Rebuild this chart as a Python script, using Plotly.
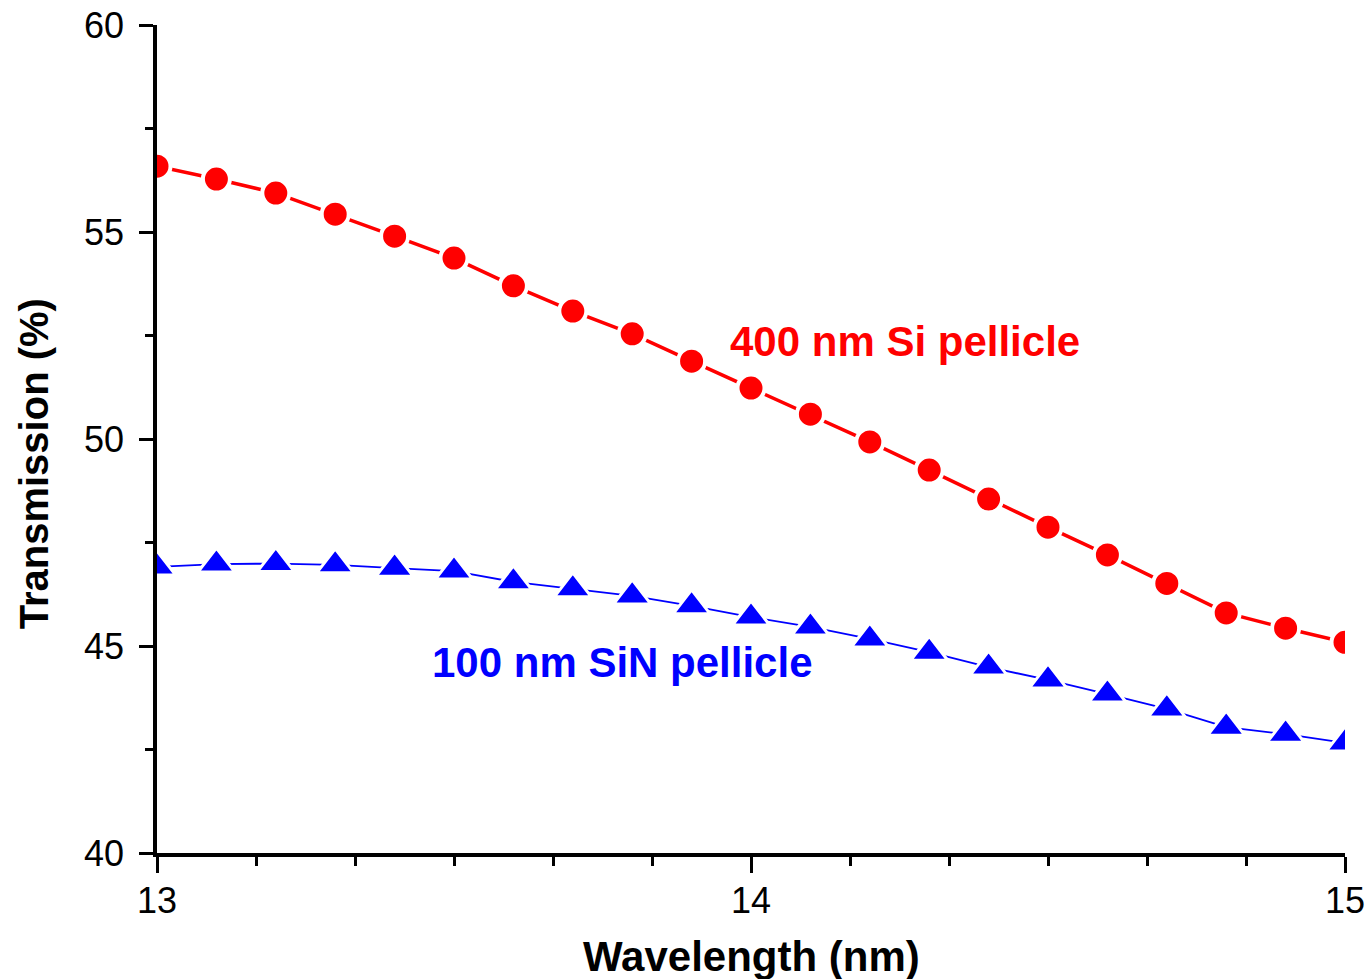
import plotly.graph_objects as go

wavelength = [13.0, 13.1, 13.2, 13.3, 13.4, 13.5, 13.6, 13.7, 13.8, 13.9, 14.0,
              14.1, 14.2, 14.3, 14.4, 14.5, 14.6, 14.7, 14.8, 14.9, 15.0]
si_400nm = [56.59, 56.28, 55.94, 55.43, 54.90, 54.37, 53.70, 53.09, 52.54, 51.88, 51.23,
            50.60, 49.93, 49.25, 48.55, 47.87, 47.20, 46.51, 45.80, 45.43, 45.09]
sin_100nm = [46.91, 46.98, 46.99, 46.96, 46.88, 46.81, 46.55, 46.38, 46.21, 45.97, 45.70,
             45.46, 45.17, 44.85, 44.49, 44.18, 43.84, 43.48, 43.04, 42.87, 42.66]

x_ticks = [13, 14, 15]
y_ticks = [40, 45, 50, 55, 60]

FONT = "Liberation Sans, Arial, sans-serif"

fig = go.Figure()
fig.add_trace(go.Scatter(
    x=wavelength, y=si_400nm, mode="lines+markers", name="400 nm Si pellicle",
    line=dict(color="#ff0000", width=3.5),
    marker=dict(symbol="circle", size=27, color="#ff0000",
                line=dict(color="white", width=4)),
))
fig.add_trace(go.Scatter(
    x=wavelength, y=sin_100nm, mode="lines+markers", name="100 nm SiN pellicle",
    line=dict(color="#0000ff", width=1.8),
    marker=dict(symbol="triangle-up", size=32, color="#0000ff",
                line=dict(color="white", width=3)),
))

fig.add_annotation(x=14.26, y=52.35, xref="x", yref="y", text="<b>400 nm Si pellicle</b>",
                   showarrow=False, font=dict(family=FONT, size=42, color="#ff0000"))
fig.add_annotation(x=13.783, y=44.59, xref="x", yref="y", text="<b>100 nm SiN pellicle</b>",
                   showarrow=False, font=dict(family=FONT, size=42, color="#0000ff"))

fig.add_annotation(x=0.5, y=-0.125, xref="paper", yref="paper", text="<b>Wavelength (nm)</b>",
                   showarrow=False, xanchor="center", yanchor="middle",
                   font=dict(family=FONT, size=42, color="black"))
fig.add_annotation(x=-0.104, y=0.47, xref="paper", yref="paper", text="<b>Transmission (%)</b>",
                   showarrow=False, xanchor="center", yanchor="middle", textangle=-90,
                   font=dict(family=FONT, size=40, color="black"))

fig.update_layout(
    width=1370, height=979,
    margin=dict(l=157, r=25, t=25, b=126, autoexpand=False),
    paper_bgcolor="white", plot_bgcolor="white",
    showlegend=False,
    font=dict(family=FONT, color="black"),
)
fig.update_xaxes(
    range=[13, 15], tickvals=x_ticks, ticktext=[str(v) for v in x_ticks],
    showline=True, linecolor="black", linewidth=3.5, showgrid=False, zeroline=False,
    ticks="outside", ticklen=16, tickwidth=3, tickcolor="black",
    tickfont=dict(family=FONT, size=36, color="black"),
    ticklabelstandoff=-3, automargin=False,
    minor=dict(dtick=1/6, tick0=13, ticks="outside", ticklen=9, tickwidth=2.5,
               tickcolor="black", showgrid=False),
)
fig.update_yaxes(
    range=[40, 60], tickvals=y_ticks, ticktext=[str(v) for v in y_ticks],
    showline=True, linecolor="black", linewidth=3.5, showgrid=False, zeroline=False,
    ticks="outside", ticklen=14, tickwidth=3, tickcolor="black",
    tickfont=dict(family=FONT, size=36, color="black"),
    ticklabelstandoff=8, automargin=False,
    minor=dict(dtick=2.5, tick0=40, ticks="outside", ticklen=8, tickwidth=2.5,
               tickcolor="black", showgrid=False),
)

fig.write_html("out.html")
